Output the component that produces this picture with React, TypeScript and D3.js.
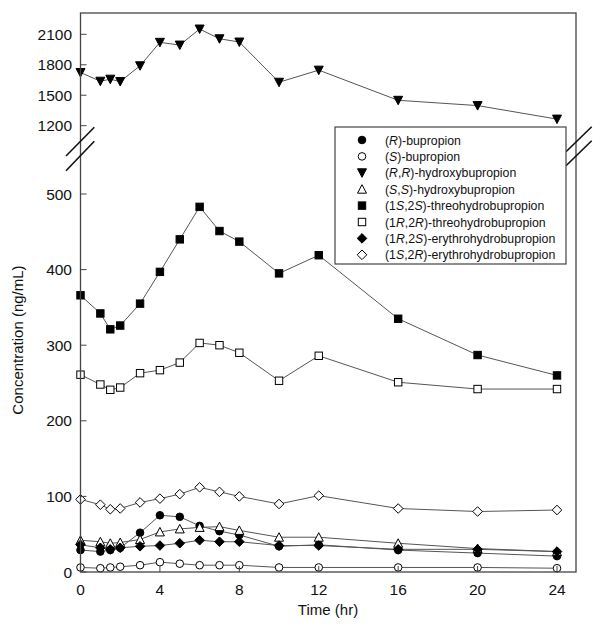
import React from "react";
import * as d3 from "d3";

const times = [0, 1, 1.5, 2, 3, 4, 5, 6, 7, 8, 10, 12, 16, 20, 24];

const rBupropion = [29, 27, 29, 32, 52, 75, 73, 61, 54, 49, 34, 36, 29, 25, 21];
const sBupropion = [6, 5, 6, 7, 9, 13, 11, 9, 9, 9, 6, 6, 6, 6, 5];
const rrHydroxy = [1724, 1638, 1658, 1635, 1790, 2021, 1994, 2152, 2056, 2024, 1628, 1747, 1450, 1398, 1265];
const ssHydroxy = [42, 40, 38, 39, 43, 53, 57, 59, 60, 55, 46, 46, 38, 31, 27];
const threo1S2S = [366, 342, 321, 326, 355, 397, 440, 483, 451, 437, 395, 419, 335, 287, 260];
const threo1R2R = [261, 248, 241, 244, 263, 267, 277, 303, 300, 290, 253, 286, 251, 242, 242];
const erythro1R2S = [36, 32, 30, 32, 34, 35, 38, 42, 40, 40, 35, 35, 30, 30, 27];
const erythro1S2R = [96, 89, 83, 84, 92, 97, 103, 112, 106, 100, 90, 101, 84, 80, 82];

const xTicks = [0, 4, 8, 12, 16, 20, 24];
const yTicksLower = [0, 100, 200, 300, 400, 500];
const yTicksUpper = [1200, 1500, 1800, 2100];

type Part = { t: string; i?: boolean };
type Series = { name: Part[]; values: number[]; shape: string; fill: boolean };

const series: Series[] = [
  { name: [{ t: "(" }, { t: "R", i: true }, { t: ")-bupropion" }], values: rBupropion, shape: "circle", fill: true },
  { name: [{ t: "(" }, { t: "S", i: true }, { t: ")-bupropion" }], values: sBupropion, shape: "circle", fill: false },
  { name: [{ t: "(" }, { t: "R", i: true }, { t: "," }, { t: "R", i: true }, { t: ")-hydroxybupropion" }], values: rrHydroxy, shape: "triangleDown", fill: true },
  { name: [{ t: "(" }, { t: "S", i: true }, { t: "," }, { t: "S", i: true }, { t: ")-hydroxybupropion" }], values: ssHydroxy, shape: "triangleUp", fill: false },
  { name: [{ t: "(1" }, { t: "S", i: true }, { t: ",2" }, { t: "S", i: true }, { t: ")-threohydrobupropion" }], values: threo1S2S, shape: "square", fill: true },
  { name: [{ t: "(1" }, { t: "R", i: true }, { t: ",2" }, { t: "R", i: true }, { t: ")-threohydrobupropion" }], values: threo1R2R, shape: "square", fill: false },
  { name: [{ t: "(1" }, { t: "R", i: true }, { t: ",2" }, { t: "S", i: true }, { t: ")-erythrohydrobupropion" }], values: erythro1R2S, shape: "diamond", fill: true },
  { name: [{ t: "(1" }, { t: "S", i: true }, { t: ",2" }, { t: "R", i: true }, { t: ")-erythrohydrobupropion" }], values: erythro1S2R, shape: "diamond", fill: false },
];

const L = 80.5, R = 576, T = 13, B = 572;
const x = d3.scaleLinear().domain([0, 24]).range([80.5, 557]);
const yLow = d3.scaleLinear().domain([0, 500]).range([572, 194]);
const yUp = d3.scaleLinear().domain([1200, 2100]).range([125.7, 34.3]);
const y = (v: number) => (v >= 1000 ? yUp(v) : yLow(v));

const FONT = "'Liberation Sans', Arial, sans-serif";

function Marker({ shape, fill, cx, cy }: { shape: string; fill: boolean; cx: number; cy: number }) {
  const f = fill ? "#000" : "#fff";
  const s = "#000";
  const sw = 1;
  if (shape === "circle") return <circle cx={cx} cy={cy} r={3.8} fill={f} stroke={s} strokeWidth={sw} />;
  if (shape === "square") return <rect x={cx - 3.7} y={cy - 3.7} width={7.4} height={7.4} fill={f} stroke={s} strokeWidth={sw} />;
  if (shape === "diamond") {
    const r = 4.8;
    return <path d={`M${cx},${cy - r}L${cx + r},${cy}L${cx},${cy + r}L${cx - r},${cy}Z`} fill={f} stroke={s} strokeWidth={sw} />;
  }
  if (shape === "triangleDown") {
    const w = 4.5, h = 4;
    return <path d={`M${cx - w},${cy - h}L${cx + w},${cy - h}L${cx},${cy + h + 0.5}Z`} fill={f} stroke={s} strokeWidth={sw} />;
  }
  const w = 4.5, h = 4;
  return <path d={`M${cx - w},${cy + h}L${cx + w},${cy + h}L${cx},${cy - h - 0.5}Z`} fill={f} stroke={s} strokeWidth={sw} />;
}

export default function App() {
  const line = d3.line<number>().x((_, i) => x(times[i])).y((v) => y(v));
  const legX = 335, legY = 127, legW = 231, legH = 137;
  return (
    <svg width={604} height={634} style={{ position: "absolute", left: 0, top: 0, background: "#fff" }} fontFamily={FONT}>
      <rect x={0} y={0} width={604} height={634} fill="#fff" />
      {/* series lines */}
      {series.map((s, k) => (
        <path key={"l" + k} d={line(s.values) || ""} fill="none" stroke="#555" strokeWidth={1} />
      ))}
      {/* markers */}
      {series.map((s, k) => (
        <g key={"m" + k}>
          {s.values.map((v, i) => (
            <Marker key={i} shape={s.shape} fill={s.fill} cx={x(times[i])} cy={y(v)} />
          ))}
        </g>
      ))}
      {/* frame */}
      <rect x={L} y={T} width={R - L} height={B - T} fill="none" stroke="#444" strokeWidth={1.3} />
      {/* y ticks */}
      {yTicksLower.map((t) => (
        <g key={"yl" + t}>
          <line x1={L} x2={L + 6} y1={yLow(t)} y2={yLow(t)} stroke="#444" strokeWidth={1} />
          <text x={72} y={yLow(t) + 5.5} textAnchor="end" fontSize={15.5} fill="#111">{t}</text>
        </g>
      ))}
      {yTicksUpper.map((t) => (
        <g key={"yu" + t}>
          <line x1={L} x2={L + 6} y1={yUp(t)} y2={yUp(t)} stroke="#444" strokeWidth={1} />
          <text x={72} y={yUp(t) + 5.5} textAnchor="end" fontSize={15.5} fill="#111">{t}</text>
        </g>
      ))}
      {/* x ticks */}
      {xTicks.map((t) => (
        <g key={"x" + t}>
          <line x1={x(t)} x2={x(t)} y1={B} y2={B - 6} stroke="#444" strokeWidth={1} />
          <text x={x(t)} y={595} textAnchor="middle" fontSize={15.5} fill="#111">{t}</text>
        </g>
      ))}
      {/* break marks */}
      <g stroke="#111" strokeWidth={1.6}>
        <line x1={66} y1={156} x2={94.3} y2={127.3} />
        <line x1={66} y1={170.7} x2={94.3} y2={141.3} />
        <line x1={566} y1={151.7} x2={591.7} y2={126.7} />
        <line x1={566} y1={165.7} x2={591.7} y2={140.7} />
      </g>
      {/* axis titles */}
      <text x={328} y={615} textAnchor="middle" fontSize={15} fill="#111">Time (hr)</text>
      <text transform="translate(23,340) rotate(-90)" textAnchor="middle" fontSize={15} fill="#111">Concentration (ng/mL)</text>
      {/* legend */}
      <rect x={legX} y={legY} width={legW} height={legH} fill="#fff" stroke="#444" strokeWidth={1.2} />
      {series.map((s, k) => {
        const cy = 140 + k * 16.4;
        return (
          <g key={"lg" + k}>
            <Marker shape={s.shape} fill={s.fill} cx={362} cy={cy} />
            <text x={385} y={cy + 4.5} fontSize={12.3} fill="#111">
              {s.name.map((p, j) => (
                <tspan key={j} fontStyle={p.i ? "italic" : "normal"}>{p.t}</tspan>
              ))}
            </text>
          </g>
        );
      })}
    </svg>
  );
}
